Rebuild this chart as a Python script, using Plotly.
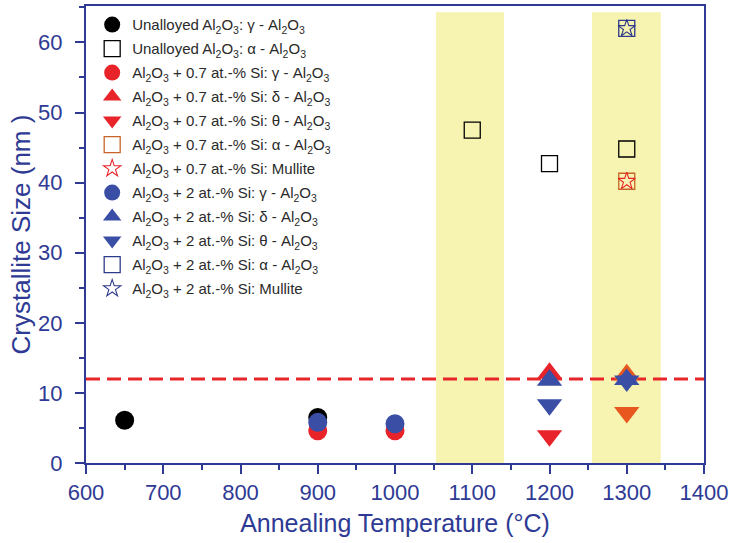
import plotly.graph_objects as go

# Annealing temperatures (°C) and crystallite sizes (nm) per phase / alloy
unalloyed_gamma_T = [650, 900]
unalloyed_gamma_d = [6.1, 6.5]
unalloyed_alpha_T = [1100, 1200, 1300]
unalloyed_alpha_d = [47.5, 42.7, 44.8]

si07_gamma_T = [900, 1000]
si07_gamma_d = [4.6, 4.6]
si07_delta_T = [1200, 1300]
si07_delta_d = [12.8, 12.6]
si07_theta_T = [1200, 1300]
si07_theta_d = [3.9, 7.2]
si07_alpha_T = [1300]
si07_alpha_d = [40.2]
si07_mullite_T = [1300]
si07_mullite_d = [40.2]

si2_gamma_T = [900, 1000]
si2_gamma_d = [5.8, 5.6]
si2_delta_T = [1200, 1300]
si2_delta_d = [11.8, 11.9]
si2_theta_T = [1200, 1300]
si2_theta_d = [8.3, 11.7]
si2_alpha_T = [1300]
si2_alpha_d = [62.0]
si2_mullite_T = [1300]
si2_mullite_d = [62.0]

# Critical size threshold and highlighted temperature windows
threshold_nm = 12
bands = [(1053, 1141), (1255, 1344)]
band_top = 64.3

AO = "Al<sub>2</sub>O<sub>3</sub>"
labels = [
    f"Unalloyed {AO}: γ - {AO}",
    f"Unalloyed {AO}: α - {AO}",
    f"{AO} + 0.7 at.-% Si: γ - {AO}",
    f"{AO} + 0.7 at.-% Si: δ - {AO}",
    f"{AO} + 0.7 at.-% Si: θ - {AO}",
    f"{AO} + 0.7 at.-% Si: α - {AO}",
    f"{AO} + 0.7 at.-% Si: Mullite",
    f"{AO} + 2 at.-% Si: γ - {AO}",
    f"{AO} + 2 at.-% Si: δ - {AO}",
    f"{AO} + 2 at.-% Si: θ - {AO}",
    f"{AO} + 2 at.-% Si: α - {AO}",
    f"{AO} + 2 at.-% Si: Mullite",
]

BLACK = "#000000"
RED = "#e8232a"
ORANGE = "#e8581e"
ORANGE_OPEN = "#c8642a"
BLUE = "#3a4ea6"
BLUE_OPEN = "#2e3a8a"
AXIS = "#2e3a94"
FONT = "Liberation Sans, Arial"

# (x, y, symbol, colour(s), size, outline width)
series = [
    (unalloyed_gamma_T, unalloyed_gamma_d, "circle", BLACK, 19, 0),
    (unalloyed_alpha_T, unalloyed_alpha_d, "square-open", BLACK, 16, 1.3),
    (si07_gamma_T, si07_gamma_d, "circle", RED, 19, 0),
    (si07_delta_T, si07_delta_d, "triangle-up", [RED, ORANGE], 22, 0),
    (si07_theta_T, si07_theta_d, "triangle-down", [RED, ORANGE], 22, 0),
    (si07_alpha_T, si07_alpha_d, "square-open", ORANGE_OPEN, 16, 1.3),
    (si07_mullite_T, si07_mullite_d, "star-open", RED, 13, 1.1),
    (si2_gamma_T, si2_gamma_d, "circle", BLUE, 19, 0),
    (si2_delta_T, si2_delta_d, "triangle-up", BLUE, 22, 0),
    (si2_theta_T, si2_theta_d, "triangle-down", BLUE, 22, 0),
    (si2_alpha_T, si2_alpha_d, "square-open", BLUE_OPEN, 16, 1.3),
    (si2_mullite_T, si2_mullite_d, "star-open", BLUE_OPEN, 13, 1.1),
]

fig = go.Figure()
for i, ((xs, ys, sym, col, size, lw), name) in enumerate(zip(series, labels)):
    fig.add_trace(go.Scatter(
        x=xs, y=ys, mode="markers", name=name, legendgroup=f"g{i}",
        marker=dict(symbol=sym, color=col, size=size,
                    line=dict(color=col, width=lw)),
    ))

# Pale yellow temperature windows behind the data
for x0, x1 in bands:
    fig.add_shape(type="rect", xref="x", yref="y", x0=x0, x1=x1,
                  y0=0, y1=band_top, layer="below", line_width=0,
                  fillcolor="#f7f3b0")

# Dashed threshold line
fig.add_shape(type="line", xref="x", yref="y", x0=600, x1=1400,
              y0=threshold_nm, y1=threshold_nm, layer="below",
              line=dict(color="#e8262a", width=3, dash="14px,7px"))

axis_common = dict(
    showline=True, linecolor=AXIS, linewidth=2, mirror=True,
    showgrid=False, zeroline=False, automargin=False,
    ticks="outside", tickcolor=AXIS, tickwidth=2, ticklen=9,
    tickfont=dict(family=FONT, size=22, color=AXIS),
    minor=dict(ticks="outside", ticklen=5, tickwidth=2, tickcolor=AXIS),
)

fig.update_xaxes(
    range=[600, 1400], dtick=100, tick0=600,
    minor_dtick=50,
    title=dict(text="Annealing Temperature (°C)", standoff=10,
               font=dict(family=FONT, size=25, color=AXIS)),
    **axis_common,
)
fig.update_yaxes(
    range=[0, 65.2], dtick=10, tick0=0,
    minor_dtick=5, ticklabelstandoff=8,
    title=dict(text="Crystallite Size (nm )", standoff=0,
               font=dict(family=FONT, size=26, color=AXIS)),
    **axis_common,
)

fig.update_layout(
    width=729, height=543,
    margin=dict(l=86, r=25, t=6, b=80),
    plot_bgcolor="white", paper_bgcolor="white",
    showlegend=True,
    legend=dict(
        x=0.01, y=0.995, xanchor="left", yanchor="top",
        bgcolor="rgba(255,255,255,0)", borderwidth=0,
        font=dict(family=FONT, size=15, color="#2a2a2a"),
        itemsizing="trace", tracegroupgap=1.5,
    ),
)

fig.write_html("out.html")
